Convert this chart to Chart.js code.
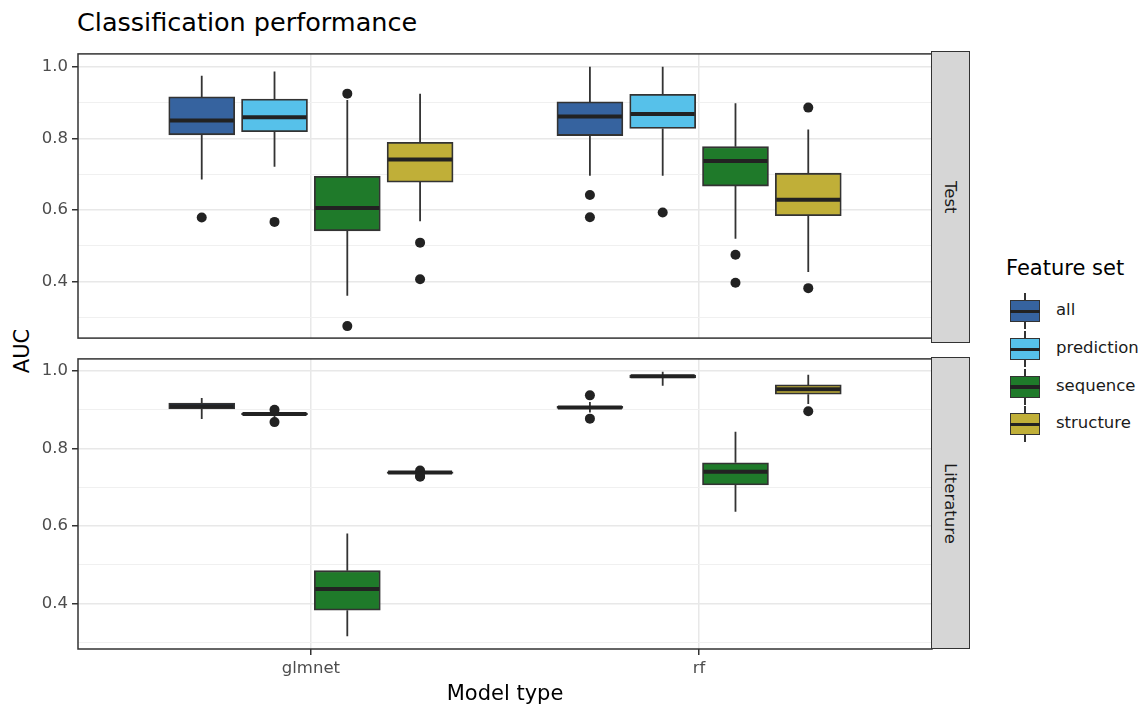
<!DOCTYPE html>
<html lang="en">
<head>
  <meta charset="UTF-8">
  <title>Classification performance</title>
  <script src="https://cdn.jsdelivr.net/npm/chart.js"></script>
  <style>
    body { margin: 0; background: #fff; font-family: "DejaVu Sans", sans-serif; overflow: hidden; }
    #page { position: relative; width: 1143px; height: 709px; }
    .abs { position: absolute; }
    #title { left: 77px; top: 10px; font-size: 25.5px; line-height: 1; color: #000; white-space: nowrap; }
    #ylab { left: 22px; top: 351px; font-size: 21px; line-height: 1; transform: translate(-50%, -50%) rotate(-90deg); white-space: nowrap; }
    .strip { left: 931px; width: 39px; box-sizing: border-box; border: 1.5px solid #333; background: #d6d6d6;
             display: flex; align-items: center; justify-content: center; }
    .strip span { writing-mode: vertical-rl; font-size: 16.5px; color: #1a1a1a; }
    #legTitle { left: 1006px; top: 257.5px; font-size: 21px; line-height: 1; white-space: nowrap; }
    .key { left: 1010px; width: 30px; height: 36px; }
    .key .wh { position: absolute; left: 14px; top: 0; width: 1.8px; height: 36px; background: #333; }
    .key .bx { position: absolute; left: 0; top: 7px; width: 30px; height: 22px; box-sizing: border-box; border: 1.8px solid #333; }
    .key .md { position: absolute; left: 0; top: 16.5px; width: 30px; height: 3.5px; background: #222; }
    .legLab { left: 1056px; font-size: 16.5px; line-height: 1; color: #1a1a1a; white-space: nowrap; }
  </style>
</head>
<body>
<div id="page">
  <div id="title" class="abs">Classification performance</div>
  <div id="ylab" class="abs">AUC</div>
  <div class="abs" style="left:0;top:40px"><canvas id="testChart" width="940" height="312"></canvas></div>
  <div class="abs" style="left:0;top:345px"><canvas id="litChart" width="940" height="364"></canvas></div>
  <div class="abs strip" style="top:50.7px;height:292.3px"><span>Test</span></div>
  <div class="abs strip" style="top:357.3px;height:291.7px"><span>Literature</span></div>
  <div id="legTitle" class="abs">Feature set</div>
  <div id="legend"></div>
</div>

<script>
  const models = ['glmnet', 'rf'];
  const featureSets = ['all', 'prediction', 'sequence', 'structure'];
  const fillColors = ['#36639f', '#56c1ea', '#1f7a2a', '#c0af38'];

  // per model (glmnet, rf): [lower whisker, q1, median, q3, upper whisker]
  const testAll        = [[0.685, 0.810, 0.850, 0.916, 0.975], [0.696, 0.808, 0.861, 0.902, 1.000]];
  const testPrediction = [[0.721, 0.819, 0.859, 0.910, 0.987], [0.696, 0.828, 0.868, 0.923, 1.000]];
  const testSequence   = [[0.361, 0.542, 0.606, 0.694, 0.907], [0.520, 0.667, 0.737, 0.777, 0.898]];
  const testStructure  = [[0.569, 0.678, 0.741, 0.789, 0.925], [0.427, 0.584, 0.629, 0.703, 0.825]];
  // outliers per model
  const testAllOut        = [[0.579], [0.642, 0.580]];
  const testPredictionOut = [[0.567], [0.593]];
  const testSequenceOut   = [[0.925, 0.276], [0.475, 0.397]];
  const testStructureOut  = [[0.509, 0.407], [0.886, 0.382]];

  const litAll        = [[0.876, 0.902, 0.909, 0.917, 0.930], [0.893, 0.903, 0.906, 0.909, 0.920]];
  const litPrediction = [[0.880, 0.887, 0.889, 0.891, 0.896], [0.962, 0.982, 0.986, 0.989, 0.998]];
  const litSequence   = [[0.316, 0.383, 0.438, 0.485, 0.581], [0.637, 0.706, 0.740, 0.763, 0.843]];
  const litStructure  = [[0.733, 0.736, 0.738, 0.740, 0.744], [0.915, 0.940, 0.953, 0.964, 0.990]];
  const litAllOut        = [[], [0.937, 0.877]];
  const litPredictionOut = [[0.900, 0.868], []];
  const litSequenceOut   = [[], []];
  const litStructureOut  = [[0.743, 0.729, 0.727], [0.896]];

  const majorTicks = [0.4, 0.6, 0.8, 1.0];
  const minorTicks = [0.3, 0.5, 0.7, 0.9];

  const testRange = [0.2425, 1.036];
  const litRange = [0.283, 1.031];

  Chart.defaults.font.family = '"DejaVu Sans", sans-serif';

  const dodge = 0.75;
  const boxPx = 66;

  function isMajor(v) {
    return majorTicks.some(m => Math.abs(m - v) < 1e-6);
  }

  function buildDatasets(stats, outs) {
    const ds = [];
    stats.forEach((perModel, i) => {
      const off = (i - 1.5) * dodge / 4;
      const boxes = [], meds = [], whisk = [], pts = [];
      perModel.forEach((s, m) => {
        const x = m + 1 + off;
        boxes.push({ x: x, y: [s[1], s[3]] });
        meds.push({ x: x, y: s[2] });
        whisk.push({ x: x, y: s[0] }, { x: x, y: s[1] }, { x: x, y: null },
                   { x: x, y: s[3] }, { x: x, y: s[4] }, { x: x, y: null });
        outs[i][m].forEach(v => pts.push({ x: x, y: v }));
      });
      ds.push({ type: 'line', data: whisk, borderColor: '#333', borderWidth: 1.8, pointRadius: 0, spanGaps: false, order: 4 });
      ds.push({ type: 'bar', data: boxes, backgroundColor: fillColors[i], borderColor: '#333', borderWidth: 1.8,
                borderSkipped: false, barThickness: boxPx, grouped: false, order: 3 });
      ds.push({ type: 'scatter', data: meds, pointStyle: 'line', pointRadius: boxPx / 2 - 1, borderColor: '#222', borderWidth: 4, order: 2 });
      ds.push({ type: 'scatter', data: pts, pointRadius: 5, backgroundColor: '#222', borderColor: '#222', borderWidth: 0, order: 1 });
    });
    return ds;
  }

  const panelBorder = {
    id: 'panelBorder',
    afterDraw(chart) {
      const { ctx, chartArea: a } = chart;
      ctx.save();
      ctx.strokeStyle = '#333';
      ctx.lineWidth = 1.5;
      ctx.strokeRect(a.left, a.top, a.right - a.left, a.bottom - a.top);
      ctx.restore();
    }
  };

  function yScale(range) {
    return {
      min: range[0], max: range[1],
      afterBuildTicks: s => { s.ticks = majorTicks.concat(minorTicks).sort().map(v => ({ value: v })); },
      afterFit: s => { s.width = 78; },
      ticks: {
        autoSkip: false, padding: 4, color: '#4d4d4d', font: { size: 16.5 },
        callback: v => isMajor(v) ? v.toFixed(1) : ''
      },
      grid: {
        color: c => isMajor(c.tick.value) ? '#e8e8e8' : '#f0f0f0',
        lineWidth: c => isMajor(c.tick.value) ? 1.5 : 1,
        tickColor: c => isMajor(c.tick.value) ? '#333' : 'rgba(0,0,0,0)',
        tickLength: 6, tickWidth: 1.5
      },
      border: { display: false }
    };
  }

  function makeChart(id, stats, outs, range, bottom) {
    const xs = {
      type: 'linear', min: 0.4, max: 2.6, offset: false,
      afterBuildTicks: s => { s.ticks = models.map((m, i) => ({ value: i + 1 })); },
      grid: { offset: false, color: '#e8e8e8', lineWidth: 1.5, drawTicks: bottom, tickLength: 6, tickColor: '#333', tickWidth: 1.5 },
      border: { display: false },
      ticks: {
        display: bottom, autoSkip: false, padding: 4, color: '#4d4d4d', font: { size: 16.5 },
        callback: v => models[Math.round(v) - 1]
      },
      title: { display: bottom, text: 'Model type', color: '#000', font: { size: 21 }, padding: { top: 0, bottom: 2 } },
      afterFit: s => { s.height = bottom ? 60 : 0; }
    };
    return new Chart(document.getElementById(id), {
      type: 'bar',
      data: { datasets: buildDatasets(stats, outs) },
      options: {
        responsive: false,
        animation: false,
        layout: {
          autoPadding: false,
          padding: bottom ? { top: 12.3, right: 8, bottom: 0, left: 0 } : { top: 10.7, right: 8, bottom: 9, left: 0 }
        },
        plugins: { legend: { display: false }, tooltip: { enabled: false } },
        scales: { x: xs, y: yScale(range) }
      },
      plugins: [panelBorder]
    });
  }

  makeChart('testChart', [testAll, testPrediction, testSequence, testStructure],
            [testAllOut, testPredictionOut, testSequenceOut, testStructureOut], testRange, false);
  makeChart('litChart', [litAll, litPrediction, litSequence, litStructure],
            [litAllOut, litPredictionOut, litSequenceOut, litStructureOut], litRange, true);

  // legend
  const leg = document.getElementById('legend');
  featureSets.forEach((name, i) => {
    const cy = 311.3 + i * 37.7;
    leg.insertAdjacentHTML('beforeend',
      '<div class="abs key" style="top:' + (cy - 18) + 'px"><div class="wh"></div>' +
      '<div class="bx" style="background:' + fillColors[i] + '"></div><div class="md"></div></div>' +
      '<div class="abs legLab" style="top:' + (cy - 9) + 'px">' + name + '</div>');
  });
</script>
</body>
</html>
